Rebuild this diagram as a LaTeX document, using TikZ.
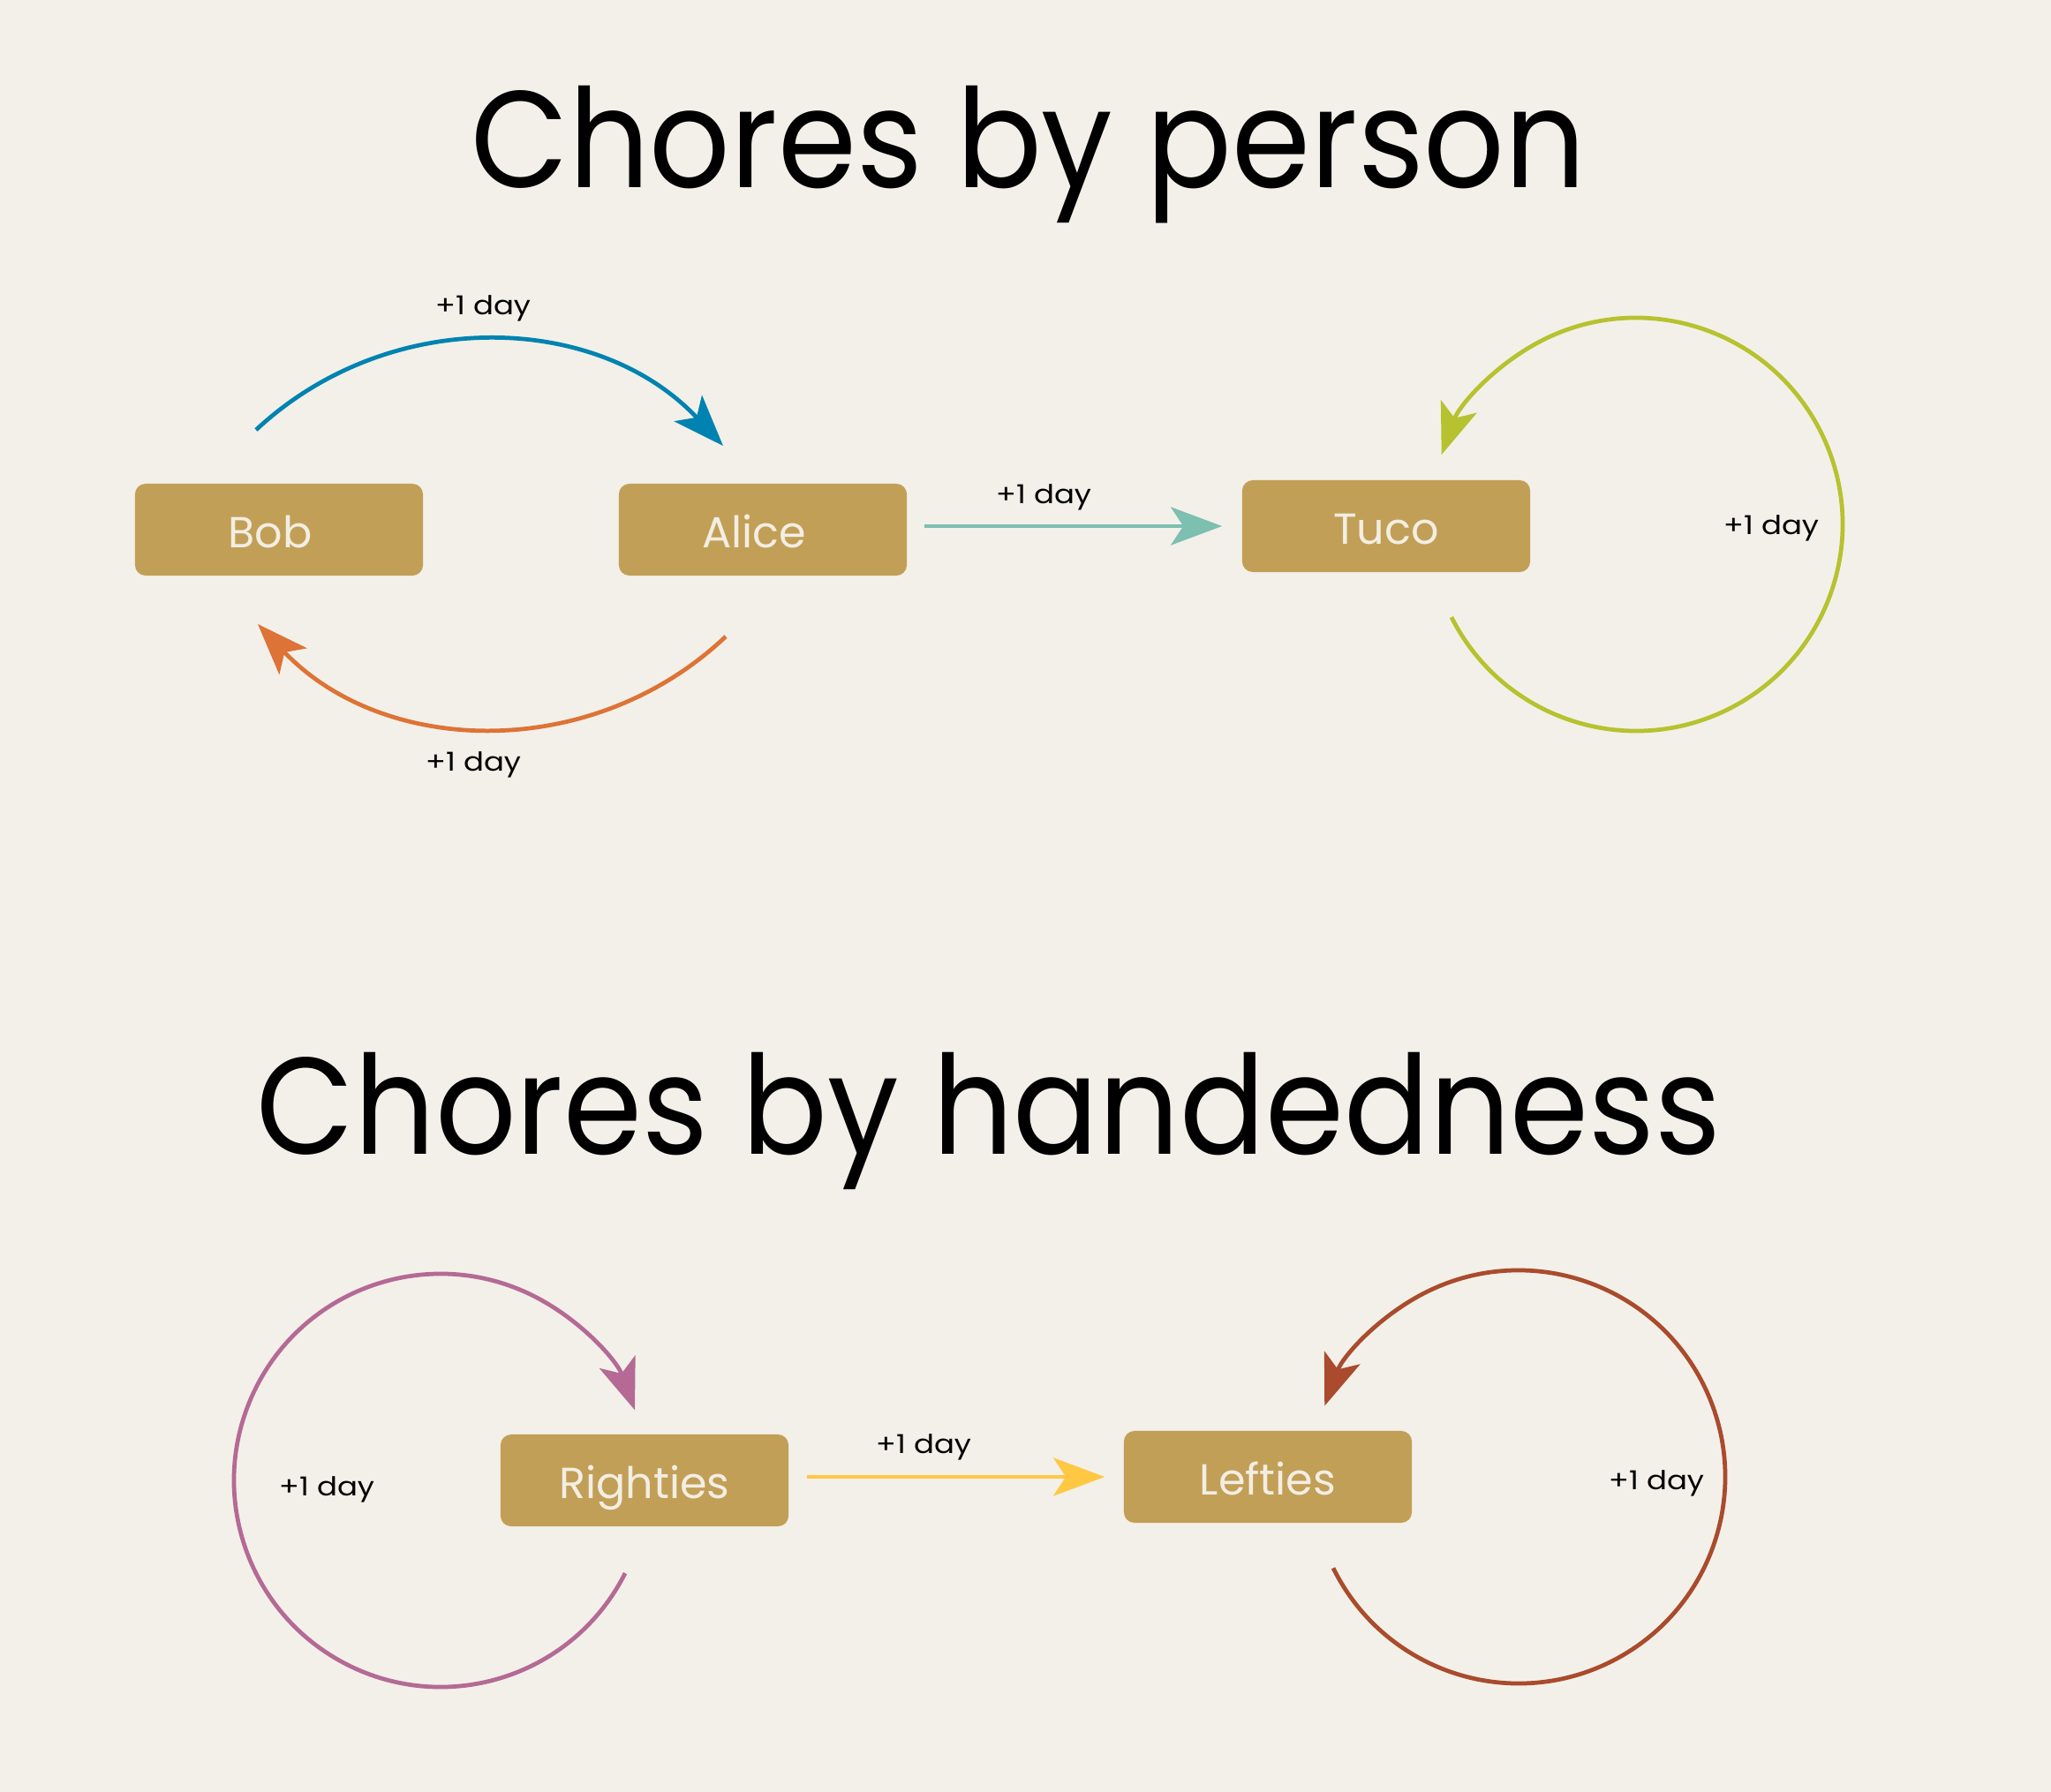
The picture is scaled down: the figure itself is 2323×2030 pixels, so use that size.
\documentclass[tikz,border=0pt]{standalone}
\usepackage{fontspec}
\setmainfont{Poppins}
\usetikzlibrary{arrows.meta,calc}
\definecolor{bg}{HTML}{F3F0E9}
\definecolor{boxc}{HTML}{C29F57}
\definecolor{boxtext}{HTML}{F3EEE3}
\definecolor{cblue}{HTML}{0083B0}
\definecolor{corange}{HTML}{DD7336}
\definecolor{cteal}{HTML}{7DBFB1}
\definecolor{cgreen}{HTML}{B6C22F}
\definecolor{cpink}{HTML}{B46A95}
\definecolor{cyellow}{HTML}{FEC843}
\definecolor{cbrown}{HTML}{A94B2C}
\newcommand{\lbltext}{\scalebox{1.15}[1]{+1 day}}
\tikzset{
 box/.style={rectangle, rounded corners=0.12cm, fill=boxc, text=boxtext, minimum width=3.26cm, minimum height=1.04cm, inner sep=0pt, text height=0.41cm, text depth=0cm, font=\fontsize{14}{17}\selectfont},
 lbl/.style={font=\fontsize{8.4}{10}\selectfont, text=black, inner sep=0pt},
 conn/.style={line width=1.35pt, -{Stealth[length=5.8mm,width=4.3mm,inset=1.4mm]}},
 ttl/.style={font=\fontsize{44.3}{53}\selectfont, anchor=base, inner sep=0pt}
}
\begin{document}
\begin{tikzpicture}[x=0.01cm,y=0.01cm]
\fill[bg] (0,0) rectangle (2323,-2030);
\useasboundingbox (0,0) rectangle (2323,-2030);
% titles
\node[ttl] (t1) at (1165,-212) {\scalebox{0.92}[1]{Chores by person}};
\node[ttl] (t2) at (1120,-1307) {\scalebox{0.92}[1]{Chores by handedness}};
% boxes
\node[box] (bob) at (316,-600) {Bob\hspace*{0.2cm}};
\node[box] (alice) at (864,-600) {Alice\hspace*{0.2cm}};
\node[box] (tuco) at (1570,-596) {Tuco};
\node[box] (righties) at (730,-1677) {Righties};
\node[box] (lefties) at (1436,-1673) {Lefties};
% curved Bob -> Alice
\coordinate (bobTop) at (290,-487);
\coordinate (aliceTop) at (819,-505);
\draw[conn, cblue] (bobTop) to[bend left=45] (aliceTop);
\node[lbl] (l1) at (547,-349) {\lbltext};
% curved Alice -> Bob
\coordinate (aliceBot) at (822,-721);
\coordinate (bobBot) at (292,-707);
\draw[conn, corange] (aliceBot) to[bend left=45] (bobBot);
\node[lbl] (l2) at (536,-866) {\lbltext};
% Alice -> Tuco
\draw[conn, cteal] ($(alice.east |- tuco.west)+(19,0)$) -- ($(tuco.west)+(-22,0)$);
\node[lbl] (l3) at (1182,-563) {\lbltext};
% Tuco loop
\coordinate (gC) at (1853,-594);
\coordinate (tucoLoop) at ($(gC)+(206.7:234)$);
\draw[conn, cgreen] (tucoLoop) arc[start angle=206.7, end angle=520.3, radius=234];
\node[lbl] (l4) at (2006,-598) {\lbltext};
% Righties loop
\coordinate (pC) at (499,-1677);
\coordinate (rightLoop) at ($(pC)+(-26.7:234)$);
\draw[conn, cpink] (rightLoop) arc[start angle=-26.7, end angle=-340.1, radius=234];
\node[lbl] (l5) at (370,-1687) {\lbltext};
% Righties -> Lefties
\draw[conn, cyellow] ($(righties.east |- lefties.west)+(20,0)$) -- ($(lefties.west)+(-21,0)$);
\node[lbl] (l6) at (1046,-1639) {\lbltext};
% Lefties loop
\coordinate (bC) at (1720,-1673);
\coordinate (leftLoop) at ($(bC)+(206.2:234)$);
\draw[conn, cbrown] (leftLoop) arc[start angle=206.2, end angle=519.9, radius=234];
\node[lbl] (l7) at (1876,-1680) {\lbltext};
\end{tikzpicture}
\end{document}
